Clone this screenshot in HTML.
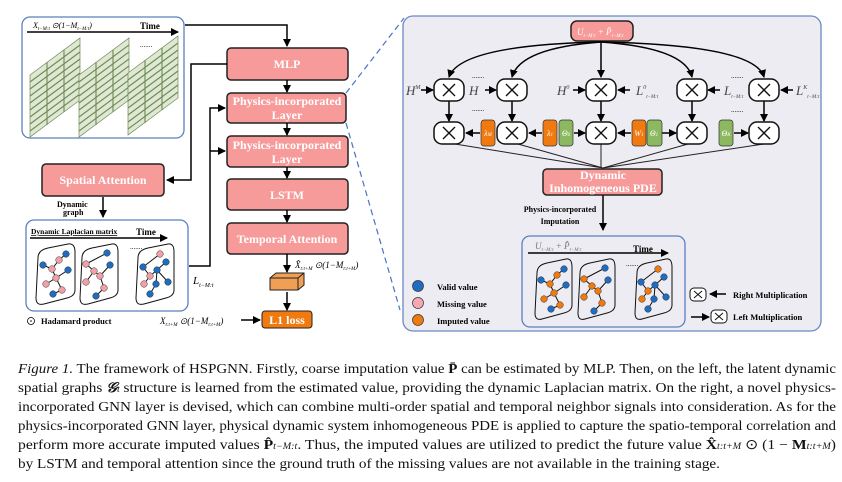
<!DOCTYPE html>
<html><head><meta charset="utf-8"><style>
html,body{margin:0;padding:0;background:#fff;}
svg{display:block;font-family:"Liberation Serif",serif;}
.b{font-weight:bold;fill:#fff;font-size:12px;text-anchor:middle;}
.cap{font-size:14px;fill:#111;}
</style></head><body>
<svg width="842" height="482" viewBox="0 0 842 482" xmlns="http://www.w3.org/2000/svg">
<defs>
<marker id="ar" markerWidth="8" markerHeight="8" refX="7" refY="4" orient="auto" markerUnits="userSpaceOnUse"><path d="M0,0 L8,4 L0,8 z" fill="#000"/></marker>
<g id="x"><rect x="-15" y="-11" width="30" height="22" rx="8" fill="#fff" stroke="#111" stroke-width="1.5"/><path d="M-6,-6 L6,6 M6,-6 L-6,6" stroke="#111" stroke-width="1.4"/></g>
<g id="grid"><path d="M0,37 L50,0 L50,62 L0,99 z" fill="#dfe8d2" stroke="#6d8a55" stroke-width="0.7"/>
<path d="M0,44 L50,7 M0,51 L50,14 M0,58 L50,21 M0,65 L50,28 M0,72 L50,35 M0,79 L50,42 M0,86 L50,49 M0,93 L50,56 M17,24 L17,87 M34,12 L34,74" stroke="#6d8a55" stroke-width="1.1"/></g>
</defs>
<rect width="842" height="482" fill="#fff"/>

<!-- right panel -->
<rect x="403" y="16" width="418" height="315" rx="10" fill="#ececf2" stroke="#6a89c4" stroke-width="1.3"/>
<path d="M346,93 L404,18 M346,123 L400,310" stroke="#4a72c0" stroke-width="1.2" stroke-dasharray="6,4" fill="none"/>

<!-- left top box -->
<rect x="22" y="17" width="162" height="121" rx="8" fill="#fff" stroke="#5a7fc0" stroke-width="1.3"/>
<text x="33" y="28" font-size="8" font-style="italic">X<tspan font-size="5" dy="2">t−M:t</tspan><tspan dy="-2"> ⊙(1−M</tspan><tspan font-size="5" dy="2">t−M:t</tspan><tspan dy="-2">)</tspan></text>
<text x="140" y="29" font-size="9" font-weight="bold">Time</text>
<line x1="27" y1="32" x2="178" y2="32" stroke="#000" stroke-width="1.5" marker-end="url(#ar)"/>
<use href="#grid" x="30" y="38"/><use href="#grid" x="79" y="38"/><use href="#grid" x="128" y="36"/>
<text x="140" y="47" font-size="7">.......</text>

<!-- main pipeline -->
<g stroke="#222" stroke-width="1.5">
<rect x="227" y="48" width="121" height="32" rx="4" fill="#f79a9a"/>
<rect x="227" y="93" width="119" height="30" rx="4" fill="#f79a9a"/>
<rect x="227" y="136" width="121" height="31" rx="4" fill="#f79a9a"/>
<rect x="227" y="179" width="121" height="31" rx="4" fill="#f79a9a"/>
<rect x="227" y="223" width="121" height="31" rx="4" fill="#f79a9a"/>
<rect x="42" y="164" width="122" height="32" rx="4" fill="#f79a9a"/>
</g>
<text class="b" x="287" y="68">MLP</text>
<text class="b" x="287" y="105" font-size="11">Physics-incorporated</text><text class="b" x="287" y="119" font-size="11">Layer</text>
<text class="b" x="287" y="149" font-size="11">Physics-incorporated</text><text class="b" x="287" y="163" font-size="11">Layer</text>
<text class="b" x="287" y="199">LSTM</text>
<text class="b" x="287" y="243">Temporal Attention</text>
<text class="b" x="103" y="184">Spatial Attention</text>
<g stroke="#000" stroke-width="1.5" fill="none">
<path d="M185,25 L287,25 L287,46" marker-end="url(#ar)"/>
<path d="M287,80 L287,92" marker-end="url(#ar)"/>
<path d="M287,123 L287,135" marker-end="url(#ar)"/>
<path d="M287,167 L287,178" marker-end="url(#ar)"/>
<path d="M287,210 L287,222" marker-end="url(#ar)"/>
<path d="M287,254 L287,272" marker-end="url(#ar)"/>
<path d="M287,292 L287,310" marker-end="url(#ar)"/>
<path d="M227,64 L191,64 L191,180 L167,180" marker-end="url(#ar)"/>
<path d="M103,197 L103,217" marker-end="url(#ar)"/>
<path d="M189,266 L210,266 L210,108 L225,108" marker-end="url(#ar)"/>
<path d="M210,151 L225,151" marker-end="url(#ar)"/>
<path d="M241,320 L260,320" marker-end="url(#ar)"/>
</g>
<text x="57" y="207" font-size="8" font-weight="bold">Dynamic</text><text x="63" y="215" font-size="8" font-weight="bold">graph</text>
<!-- cube -->
<path d="M270,278 L276,273 L304,273 L304,285 L298,290 L270,290 z" fill="#f0a055" stroke="#222"/>
<path d="M270,278 L298,278 L304,273 M298,278 L298,290" fill="none" stroke="#222"/>
<text x="295" y="268" font-size="9" font-style="italic">X̂<tspan font-size="5" dy="2">t:t+M</tspan><tspan dy="-2"> ⊙(1−M</tspan><tspan font-size="5" dy="2">t:t+M</tspan><tspan dy="-2">)</tspan></text>
<rect x="262" y="311" width="50" height="17" rx="3" fill="#f07a10" stroke="#222"/>
<text class="b" x="287" y="324">L1 loss</text>
<text x="160" y="324" font-size="9" font-style="italic">X<tspan font-size="5" dy="2">t:t+M</tspan><tspan dy="-2"> ⊙(1−M</tspan><tspan font-size="5" dy="2">t:t+M</tspan><tspan dy="-2">)</tspan></text>
<text x="193" y="284" font-size="11" font-style="italic">L<tspan font-size="6" dy="3">t−M:t</tspan></text>

<!-- laplacian box -->
<rect x="26" y="220" width="162" height="91" rx="8" fill="#fff" stroke="#5a7fc0" stroke-width="1.3"/>
<text x="31" y="234" font-size="7.5" font-weight="bold" text-decoration="underline">Dynamic Laplacian matrix</text>
<text x="136" y="235" font-size="9" font-weight="bold">Time</text>
<line x1="30" y1="238" x2="167" y2="238" stroke="#000" stroke-width="1.5" marker-end="url(#ar)"/>
<text x="130" y="249" font-size="7">.......</text>
<g stroke="#111" fill="none" stroke-width="1">
<path d="M38,258 Q38,250 48,248 L68,244 Q75,243 75,252 L75,290 Q75,296 67,298 L44,304 Q36,306 36,298 z"/>
<path d="M82,258 Q82,250 92,248 L112,244 Q118,243 118,252 L118,290 Q118,296 110,298 L88,304 Q80,306 80,298 z"/>
<path d="M138,258 Q138,250 148,248 L168,244 Q174,243 174,252 L174,290 Q174,296 166,298 L144,304 Q136,306 136,298 z"/>
<path d="M43,265 L52,269 L59,260 L66,254 M52,269 L56,278 L68,270 M56,278 L46,284 M56,278 L62,290 L53,294"/>
<path d="M86,264 L107,253 M86,264 L94,271 L100,276 L110,265 M100,276 L104,288 L96,296 M94,271 L86,282"/>
<path d="M143,267 L160,254 M143,267 L150,276 L157,270 L166,262 M157,270 L156,284 L150,294 M150,276 L144,284 M157,270 L168,282"/>
</g>
<g fill="#f2a0a8" stroke="#333" stroke-width="0.5">
<circle cx="52" cy="269" r="3.3"/><circle cx="59" cy="260" r="3.3"/><circle cx="56" cy="278" r="3.3"/><circle cx="46" cy="284" r="3.3"/><circle cx="62" cy="290" r="3.3"/>
<circle cx="86" cy="264" r="3.3"/><circle cx="94" cy="271" r="3.3"/><circle cx="100" cy="276" r="3.3"/><circle cx="86" cy="282" r="3.3"/><circle cx="104" cy="288" r="3.3"/>
<circle cx="150" cy="276" r="3.3"/><circle cx="160" cy="254" r="3.3"/><circle cx="144" cy="284" r="3.3"/>
</g>
<g fill="#1f6cc0" stroke="#333" stroke-width="0.5">
<circle cx="43" cy="265" r="3.3"/><circle cx="66" cy="254" r="3.3"/><circle cx="68" cy="270" r="3.3"/><circle cx="53" cy="294" r="3.3"/>
<circle cx="107" cy="253" r="3.3"/><circle cx="110" cy="265" r="3.3"/><circle cx="96" cy="296" r="3.3"/>
<circle cx="143" cy="267" r="3.3"/><circle cx="157" cy="270" r="3.3"/><circle cx="166" cy="262" r="3.3"/><circle cx="156" cy="284" r="3.3"/><circle cx="150" cy="294" r="3.3"/><circle cx="168" cy="282" r="3.3"/>
</g>
<circle cx="31" cy="321" r="3.5" fill="none" stroke="#000" stroke-width="0.8"/><circle cx="31" cy="321" r="0.8"/>
<text x="41" y="324" font-size="8.5" font-weight="bold">Hadamard product</text>

<!-- right panel content -->
<rect x="571" y="21" width="62" height="20" rx="6" fill="#f79a9a" stroke="#222" stroke-width="1.5"/>
<text x="577" y="35" font-size="9" font-style="italic" fill="#fff">U<tspan font-size="5" dy="2">t−M:t</tspan><tspan dy="-2"> + P̄</tspan><tspan font-size="5" dy="2">t−M:t</tspan></text>
<g stroke="#000" stroke-width="1.5" fill="none">
<path d="M601,42 Q460,45 449,77" marker-end="url(#ar)"/>
<path d="M601,42 Q520,48 512,77" marker-end="url(#ar)"/>
<path d="M601,42 L601,77" marker-end="url(#ar)"/>
<path d="M601,42 Q685,48 692,77" marker-end="url(#ar)"/>
<path d="M601,42 Q755,45 764,77" marker-end="url(#ar)"/>
<path d="M449,101 L449,121" marker-end="url(#ar)"/><path d="M512,101 L512,121" marker-end="url(#ar)"/><path d="M601,101 L601,121" marker-end="url(#ar)"/><path d="M692,101 L692,121" marker-end="url(#ar)"/><path d="M764,101 L764,121" marker-end="url(#ar)"/>
<path d="M421,90 L433,90" marker-end="url(#ar)"/><path d="M485,90 L496,90" marker-end="url(#ar)"/><path d="M573,90 L585,90" marker-end="url(#ar)"/>
<path d="M630,90 L618,90" marker-end="url(#ar)"/><path d="M720,90 L708,90" marker-end="url(#ar)"/><path d="M793,90 L781,90" marker-end="url(#ar)"/>
<path d="M480,133 L466,133" marker-end="url(#ar)"/><path d="M542,133 L529,133" marker-end="url(#ar)"/><path d="M574,133 L585,133" marker-end="url(#ar)"/>
<path d="M631,133 L618,133" marker-end="url(#ar)"/><path d="M662,133 L676,133" marker-end="url(#ar)"/><path d="M734,133 L748,133" marker-end="url(#ar)"/>
<path d="M603,195 L603,230" marker-end="url(#ar)"/>
</g>
<g stroke="#222" stroke-width="1"><path d="M455,144 L603,168 M518,144 L603,168 M601,144 L601,168 M688,144 L603,168 M764,144 L603,168"/></g>
<use href="#x" x="449" y="90"/><use href="#x" x="512" y="90"/><use href="#x" x="601" y="90"/><use href="#x" x="692" y="90"/><use href="#x" x="764" y="90"/>
<use href="#x" x="449" y="133"/><use href="#x" x="512" y="133"/><use href="#x" x="601" y="133"/><use href="#x" x="692" y="133"/><use href="#x" x="764" y="133"/>
<g font-style="italic" font-size="13" fill="#444">
<text x="406" y="95">H<tspan font-size="6" dy="-6">M</tspan></text><text x="469" y="95">H</text><text x="557" y="95">H<tspan font-size="6" dy="-6">0</tspan></text>
<text x="636" y="95">L<tspan font-size="6" dy="-6">0</tspan><tspan font-size="5" dy="9">t−M:t</tspan></text>
<text x="724" y="95">L<tspan font-size="5" dy="3">t−M:t</tspan></text>
<text x="796" y="95">L<tspan font-size="6" dy="-6">K</tspan><tspan font-size="5" dy="9">t−M:t</tspan></text>
</g>
<g font-size="7"><text x="472" y="78">.......</text><text x="472" y="111">.......</text><text x="731" y="78">.......</text><text x="731" y="112">.......</text></g>
<g stroke="#333" stroke-width="0.7">
<rect x="481" y="120" width="14" height="26" rx="3" fill="#f07a10"/>
<rect x="543" y="120" width="14" height="26" rx="3" fill="#f07a10"/>
<rect x="559" y="120" width="14" height="26" rx="3" fill="#8cb860"/>
<rect x="632" y="120" width="14" height="26" rx="3" fill="#f07a10"/>
<rect x="647" y="120" width="15" height="26" rx="3" fill="#8cb860"/>
<rect x="719" y="120" width="14" height="26" rx="3" fill="#8cb860"/>
</g>
<g font-size="8" font-style="italic" fill="#fff" text-anchor="middle"><text x="488" y="136">λ<tspan font-size="5">M</tspan></text><text x="550" y="136">λ<tspan font-size="5">1</tspan></text><text x="566" y="136">Θ<tspan font-size="5">0</tspan></text><text x="639" y="136">W<tspan font-size="5">1</tspan></text><text x="654" y="136">Θ<tspan font-size="5">1</tspan></text><text x="726" y="136">Θ<tspan font-size="5">K</tspan></text></g>
<rect x="543" y="169" width="119" height="26" rx="4" fill="#f79a9a" stroke="#222" stroke-width="1.5"/>
<text class="b" x="603" y="179" font-size="11">Dynamic</text><text class="b" x="603" y="192" font-size="11">Inhomogeneous PDE</text>
<text x="560" y="212" font-size="8" font-weight="bold" text-anchor="middle">Physics-incorporated</text>
<text x="560" y="224" font-size="8" font-weight="bold" text-anchor="middle">Imputation</text>
<!-- bottom inner box -->
<rect x="522" y="236" width="163" height="91" rx="8" fill="#ececf2" stroke="#5a7fc0" stroke-width="1.3"/>
<text x="535" y="249" font-size="9" font-style="italic" fill="#777">U<tspan font-size="5" dy="2">t−M:t</tspan><tspan dy="-2"> + P̂</tspan><tspan font-size="5" dy="2">t−M:t</tspan></text>
<text x="633" y="252" font-size="9" font-weight="bold">Time</text>
<line x1="528" y1="253" x2="668" y2="253" stroke="#000" stroke-width="1.5" marker-end="url(#ar)"/>
<text x="626" y="266" font-size="7">.......</text>
<g stroke="#111" fill="none" stroke-width="1">
<path d="M537,273 Q537,265 547,263 L566,259 Q572,258 572,267 L572,305 Q572,311 564,313 L542,319 Q535,321 535,313 z"/>
<path d="M580,273 Q580,265 590,263 L609,259 Q615,258 615,267 L615,305 Q615,311 607,313 L585,319 Q578,321 578,313 z"/>
<path d="M637,273 Q637,265 647,263 L666,259 Q672,258 672,267 L672,305 Q672,311 664,313 L642,319 Q635,321 635,313 z"/>
<path d="M541,280 L550,284 L557,275 L564,269 M550,284 L554,293 L566,285 M554,293 L544,299 M554,293 L560,305 L551,309"/>
<path d="M584,279 L605,268 M584,279 L592,286 L598,291 L608,280 M598,291 L602,303 L594,311 M592,286 L584,297"/>
<path d="M641,282 L658,269 M641,282 L648,291 L655,285 L664,277 M655,285 L654,299 L648,309 M648,291 L642,299 M655,285 L666,297"/>
</g>
<g fill="#f07a10" stroke="#333" stroke-width="0.5">
<circle cx="550" cy="284" r="3.3"/><circle cx="557" cy="275" r="3.3"/><circle cx="554" cy="293" r="3.3"/><circle cx="544" cy="299" r="3.3"/><circle cx="560" cy="305" r="3.3"/>
<circle cx="584" cy="279" r="3.3"/><circle cx="592" cy="286" r="3.3"/><circle cx="598" cy="291" r="3.3"/><circle cx="584" cy="297" r="3.3"/><circle cx="602" cy="303" r="3.3"/>
<circle cx="648" cy="291" r="3.3"/><circle cx="658" cy="269" r="3.3"/><circle cx="642" cy="299" r="3.3"/>
</g>
<g fill="#1f6cc0" stroke="#333" stroke-width="0.5">
<circle cx="541" cy="280" r="3.3"/><circle cx="564" cy="269" r="3.3"/><circle cx="566" cy="285" r="3.3"/><circle cx="551" cy="309" r="3.3"/>
<circle cx="605" cy="268" r="3.3"/><circle cx="608" cy="280" r="3.3"/><circle cx="594" cy="311" r="3.3"/>
<circle cx="641" cy="282" r="3.3"/><circle cx="655" cy="285" r="3.3"/><circle cx="664" cy="277" r="3.3"/><circle cx="654" cy="299" r="3.3"/><circle cx="648" cy="309" r="3.3"/><circle cx="666" cy="297" r="3.3"/>
</g>
<!-- legends -->
<circle cx="418" cy="286" r="5.5" fill="#1f6cc0" stroke="#333" stroke-width="0.7"/>
<circle cx="418" cy="303" r="5.5" fill="#f6a8b0" stroke="#333" stroke-width="0.7"/>
<circle cx="418" cy="320" r="5.5" fill="#f07a10" stroke="#333" stroke-width="0.7"/>
<g font-size="8.5" font-weight="bold"><text x="437" y="290">Valid value</text><text x="437" y="307">Missing value</text><text x="437" y="324">Imputed value</text>
<text x="733" y="298">Right Multiplication</text><text x="733" y="320">Left Multiplication</text></g>
<rect x="690" y="288" width="16" height="13" rx="4" fill="#fff" stroke="#111"/><path d="M694,291 L702,298 M702,291 L694,298" stroke="#111"/>
<rect x="711" y="310" width="16" height="13" rx="4" fill="#fff" stroke="#111"/><path d="M715,313 L723,320 M723,313 L715,320" stroke="#111"/>
<path d="M726,294 L710,294" stroke="#000" stroke-width="1.5" marker-end="url(#ar)"/>
<path d="M691,317 L709,317" stroke="#000" stroke-width="1.5" marker-end="url(#ar)"/>

<!-- caption -->
<g class="cap">
<text x="18" y="373" textLength="818" lengthAdjust="spacingAndGlyphs"><tspan font-style="italic">Figure 1.</tspan> The framework of HSPGNN. Firstly, coarse imputation value <tspan font-weight="bold">P̄</tspan> can be estimated by MLP. Then, on the left, the latent dynamic</text>
<text x="18" y="392" textLength="818" lengthAdjust="spacingAndGlyphs">spatial graphs <tspan font-style="italic" font-weight="bold">𝒢</tspan><tspan font-style="italic" font-size="9">t</tspan> structure is learned from the estimated value, providing the dynamic Laplacian matrix. On the right, a novel physics-</text>
<text x="18" y="411" textLength="818" lengthAdjust="spacingAndGlyphs">incorporated GNN layer is devised, which can combine multi-order spatial and temporal neighbor signals into consideration. As for the</text>
<text x="18" y="430" textLength="818" lengthAdjust="spacingAndGlyphs">physics-incorporated GNN layer, physical dynamic system inhomogeneous PDE is applied to capture the spatio-temporal correlation and</text>
<text x="18" y="449" textLength="818" lengthAdjust="spacingAndGlyphs">perform more accurate imputed values <tspan font-weight="bold">P̂</tspan><tspan font-style="italic" font-size="9">t−M:t</tspan>. Thus, the imputed values are utilized to predict the future value <tspan font-weight="bold">X̂</tspan><tspan font-style="italic" font-size="9">t:t+M</tspan> ⊙ (1 − <tspan font-weight="bold">M</tspan><tspan font-style="italic" font-size="9">t:t+M</tspan>)</text>
<text x="18" y="468" textLength="702" lengthAdjust="spacingAndGlyphs">by LSTM and temporal attention since the ground truth of the missing values are not available in the training stage.</text>
</g>
</svg>
</body></html>
